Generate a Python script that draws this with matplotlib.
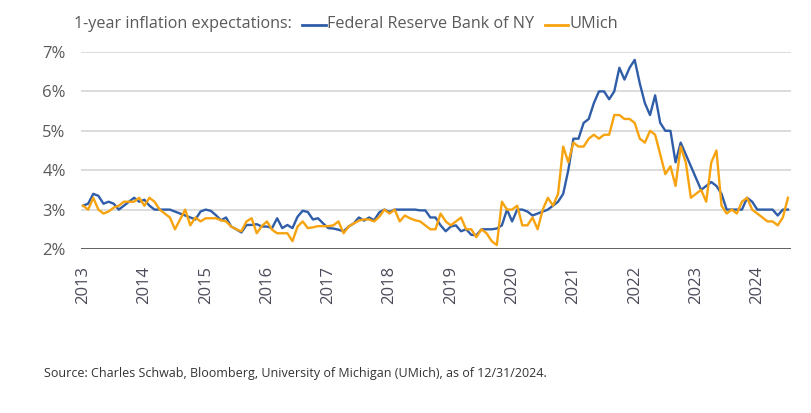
import matplotlib.pyplot as plt
from matplotlib.lines import Line2D
import numpy as np

plt.rcParams['font.family'] = ['Open Sans', 'DejaVu Sans']

# Monthly readings, first point = mid-2013, last = end of 2024
nyfed = [
    3.1, 3.15, 3.4, 3.35, 3.15, 3.2, 3.15, 3.0, 3.1, 3.2, 3.3, 3.2,
    3.25, 3.1, 3.0, 3.0, 3.0, 3.0, 2.95, 2.9, 2.85, 2.8, 2.75, 2.95,
    3.0, 2.97, 2.86, 2.73, 2.8, 2.57, 2.5, 2.42, 2.61, 2.61, 2.63, 2.57,
    2.57, 2.53, 2.78, 2.53, 2.61, 2.53, 2.82, 2.97, 2.94, 2.75, 2.78, 2.65,
    2.53, 2.52, 2.49, 2.45, 2.57, 2.65, 2.8, 2.72, 2.8, 2.73, 2.93, 3.0,
    2.94, 3.0, 3.0, 3.0, 3.0, 3.0, 2.98, 2.98, 2.8, 2.8, 2.6, 2.45,
    2.57, 2.6, 2.45, 2.5, 2.36, 2.35, 2.5, 2.5, 2.5, 2.52, 2.6, 3.0,
    2.7, 3.0, 3.0, 2.95, 2.85, 2.9, 2.95, 3.0, 3.1, 3.2, 3.4, 4.0,
    4.8, 4.8, 5.2, 5.3, 5.7, 6.0, 6.0, 5.8, 6.0, 6.6, 6.3, 6.6,
    6.8, 6.2, 5.7, 5.4, 5.9, 5.2, 5.0, 5.0, 4.2, 4.7, 4.4, 4.1,
    3.8, 3.5, 3.6, 3.7, 3.6, 3.4, 3.0, 3.0, 3.0, 3.0, 3.3, 3.2,
    3.0, 3.0, 3.0, 3.0, 2.85, 3.0, 3.0,
]
umich = [
    3.1, 3.0, 3.3, 3.0, 2.9, 2.95, 3.05, 3.1, 3.2, 3.2, 3.2, 3.3,
    3.1, 3.3, 3.2, 3.0, 2.9, 2.8, 2.5, 2.75, 3.0, 2.6, 2.8, 2.7,
    2.78, 2.78, 2.78, 2.73, 2.7, 2.57, 2.5, 2.45, 2.7, 2.78, 2.4, 2.58,
    2.7, 2.49, 2.4, 2.4, 2.4, 2.2, 2.57, 2.7, 2.53, 2.55, 2.58, 2.58,
    2.58, 2.6, 2.7, 2.4, 2.57, 2.65, 2.72, 2.75, 2.75, 2.7, 2.82, 3.0,
    2.9, 3.0, 2.7, 2.85, 2.78, 2.73, 2.7, 2.6, 2.5, 2.5, 2.9, 2.7,
    2.6, 2.7, 2.8, 2.5, 2.5, 2.3, 2.5, 2.4, 2.2, 2.1, 3.2, 3.0,
    3.0, 3.1, 2.6, 2.6, 2.8, 2.5, 3.0, 3.3, 3.1, 3.4, 4.6, 4.2,
    4.7, 4.6, 4.6, 4.8, 4.9, 4.8, 4.9, 4.9, 5.4, 5.4, 5.3, 5.3,
    5.2, 4.8, 4.7, 5.0, 4.9, 4.4, 3.9, 4.1, 3.6, 4.6, 4.2, 3.3,
    3.4, 3.5, 3.2, 4.2, 4.5, 3.1, 2.9, 3.0, 2.9, 3.2, 3.3, 3.0,
    2.9, 2.8, 2.7, 2.7, 2.6, 2.8, 3.3,
]
years = ['2013', '2014', '2015', '2016', '2017', '2018',
         '2019', '2020', '2021', '2022', '2023', '2024']
yticks = [2, 3, 4, 5, 6, 7]

blue = '#2f5da8'
orange = '#f7a30f'
grey_txt = '#595959'

W, H = 812, 413
fig = plt.figure(figsize=(W / 100, H / 100), dpi=100)
ax = fig.add_axes([81 / W, 1 - 249 / H, (791 - 81) / W, (249 - 52) / H])

x = np.arange(len(nyfed))
ax.plot(x, nyfed, color=blue, lw=1.7, solid_joinstyle='round', zorder=3)
ax.plot(np.arange(len(umich)), umich, color=orange, lw=1.7,
        solid_joinstyle='round', zorder=4)

ax.set_xlim(-0.4, 138.6)
ax.set_ylim(2, 7)
ax.set_yticks(yticks)
ax.set_yticklabels([f'{v}%' for v in yticks])
ax.set_xticks(np.arange(len(years)) * 12)
ax.set_xticklabels(years, rotation=90)

for v in yticks[1:]:
    ax.axhline(v, color='#d9d9d9', lw=1.3, zorder=1)
ax.axhline(2, color='#5f5f5f', lw=1.4, zorder=2)

for s in ax.spines.values():
    s.set_visible(False)
ax.tick_params(axis='both', length=0, labelsize=12, colors=grey_txt)
ax.tick_params(axis='y', pad=11)
ax.tick_params(axis='x', pad=12)
for lab in ax.get_xticklabels():
    lab.set_color('#4a4a5a')

# header with inline legend
fig.text(74 / W, 1 - 24 / H, '1-year inflation expectations:', fontsize=11.6,
         color=grey_txt, va='center', ha='left')
fig.add_artist(Line2D([302 / W, 326 / W], [1 - 25 / H, 1 - 25 / H],
                      color=blue, lw=2, transform=fig.transFigure))
fed = fig.text(327 / W, 1 - 24 / H, 'Federal Reserve Bank of NY', fontsize=11.6,
               color=grey_txt, va='center', ha='left')
fig.canvas.draw()
end_px = fed.get_window_extent().x1
x0 = end_px + 11
fig.add_artist(Line2D([x0 / W, (x0 + 23) / W], [1 - 25 / H, 1 - 25 / H],
                      color=orange, lw=2, transform=fig.transFigure))
fig.text((x0 + 24) / W, 1 - 24 / H, 'UMich', fontsize=11.8,
         color=grey_txt, va='center', ha='left')

fig.text(44 / W, 1 - 374 / H,
         'Source: Charles Schwab, Bloomberg, University of Michigan (UMich), as of 12/31/2024.',
         fontsize=9, color='#333333', va='center', ha='left')

fig.savefig('out.png', dpi=100, facecolor='white')
